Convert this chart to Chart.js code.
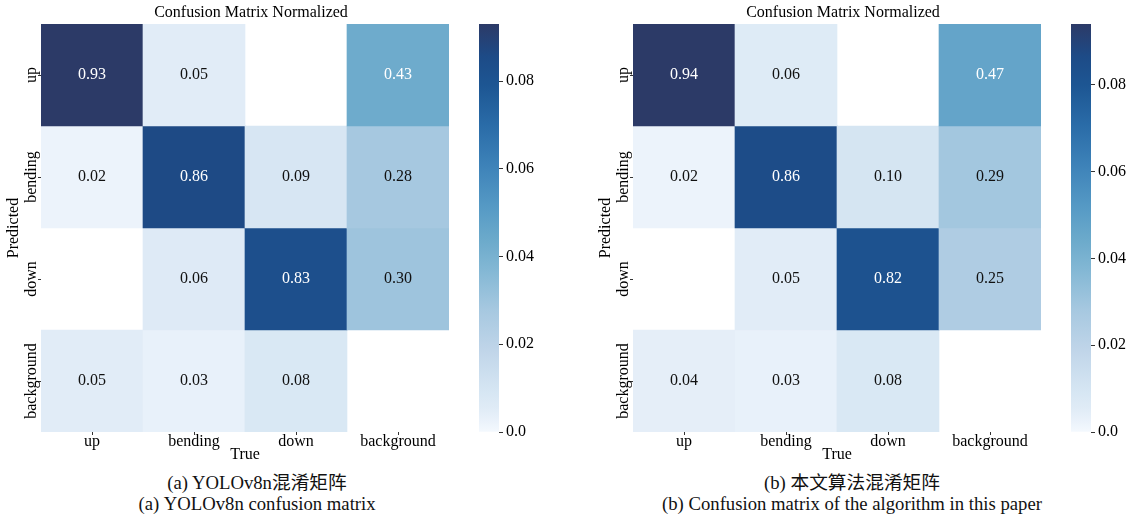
<!DOCTYPE html>
<html>
<head>
<meta charset="utf-8">
<title>Confusion Matrix Normalized</title>
<script src="https://cdn.jsdelivr.net/npm/chart.js@4.4.1/dist/chart.umd.min.js"></script>
<style>
    body { margin: 0; background: #fff; }
    #wrapper { position: relative; width: 1139px; height: 518px; overflow: hidden;
               font-family: "Liberation Serif", "Noto Sans CJK SC", serif; }
    .box { position: absolute; }
    .caption { position: absolute; width: 514px; text-align: center; font-size: 18.7px;
               line-height: 21px; color: #111; }
</style>
</head>
<body>
<div id="wrapper">
    <div class="box" style="left:0;top:0;width:502px;height:464px"><canvas id="heatA"></canvas></div>
    <div class="box" style="left:470px;top:0;width:70px;height:464px"><canvas id="barA"></canvas></div>
    <div class="box" style="left:592px;top:0;width:502px;height:464px"><canvas id="heatB"></canvas></div>
    <div class="box" style="left:1062px;top:0;width:70px;height:464px"><canvas id="barB"></canvas></div>
    <div class="caption" style="left:0;top:472px">(a) YOLOv8n混淆矩阵<br>(a) YOLOv8n confusion matrix</div>
    <div class="caption" style="left:595px;top:472px">(b) 本文算法混淆矩阵<br>(b) Confusion matrix of the algorithm in this paper</div>
</div>
<script>
"use strict"

// columns = true class, rows = predicted class, null = empty cell
const trueLabels = ["up", "bending", "down", "background"];
const predLabels = ["up", "bending", "down", "background"];

const matrixA = [
    [0.93, 0.05, null, 0.43],
    [0.02, 0.86, 0.09, 0.28],
    [null, 0.06, 0.83, 0.30],
    [0.05, 0.03, 0.08, null]
];
const matrixB = [
    [0.94, 0.06, null, 0.47],
    [0.02, 0.86, 0.10, 0.29],
    [null, 0.05, 0.82, 0.25],
    [0.04, 0.03, 0.08, null]
];

const colorbarTicks = [0, 0.02, 0.04, 0.06, 0.08];
const colorbarMaxA = 0.093;
const colorbarMaxB = 0.094;

const titleText = "Confusion Matrix Normalized";
const FONT = "'Liberation Serif', 'Times New Roman', serif";

// Blues-like map, as it looks in the picture
const cmap = [
    [0.00, 244, 249, 254],
    [0.03, 233, 241, 250],
    [0.06, 223, 235, 246],
    [0.10, 214, 230, 243],
    [0.20, 192, 213, 233],
    [0.30, 166, 200, 224],
    [0.40, 130, 183, 212],
    [0.47, 108, 170, 203],
    [0.55, 86, 154, 197],
    [0.65, 62, 131, 185],
    [0.75, 42, 108, 168],
    [0.85, 29, 86, 147],
    [0.92, 29, 75, 135],
    [1.00, 44, 58, 103]
];

function mapRgb(f) {
    f = Math.max(0, Math.min(1, f));
    for (let i = 1; i < cmap.length; i++) {
        if (f <= cmap[i][0]) {
            let a = cmap[i - 1], b = cmap[i];
            let t = (f - a[0]) / (b[0] - a[0]);
            return [1, 2, 3].map(k => Math.round(a[k] + (b[k] - a[k]) * t));
        }
    }
    return cmap[cmap.length - 1].slice(1);
}

function luminance(rgb) {
    let c = rgb.map(v => {
        v = v / 255;
        return v <= 0.03928 ? v / 12.92 : Math.pow((v + 0.055) / 1.055, 2.4);
    });
    return 0.2126 * c[0] + 0.7152 * c[1] + 0.0722 * c[2];
}

Chart.defaults.font.family = FONT;
Chart.defaults.font.size = 16;
Chart.defaults.color = "#000";

function makeHeatmap(canvasId, matrix, cbMax) {
    let vmax = cbMax * 10;

    let labelPlugin = {
        id: "labels_" + canvasId,
        afterDatasetsDraw(chart) {
            let ctx = chart.ctx;
            ctx.save();
            ctx.font = "16px " + FONT;
            ctx.textAlign = "center";
            ctx.textBaseline = "middle";

            // numbers in the cells
            matrix.forEach((row, r) => {
                let meta = chart.getDatasetMeta(r);
                row.forEach((v, c) => {
                    if (v == null) return;
                    let bar = meta.data[c].getProps(["x", "y", "base"], true);
                    let lum = luminance(mapRgb(v / vmax));
                    ctx.fillStyle = lum < 0.42 ? "#fff" : "#111";
                    ctx.fillText(v.toFixed(2), bar.x, (bar.y + bar.base) / 2);
                });
            });

            // y tick labels, turned like in matplotlib
            let y = chart.scales.y;
            ctx.fillStyle = "#000";
            y.ticks.forEach(t => {
                ctx.save();
                ctx.translate(y.right - 9, y.getPixelForValue(t.value));
                ctx.rotate(-Math.PI / 2);
                ctx.fillText(predLabels[Math.floor(t.value)], 0, 0);
                ctx.restore();
            });

            ctx.fillText(titleText, chart.width / 2, 12.5);
            ctx.restore();
        }
    };

    return new Chart(document.getElementById(canvasId), {
        type: "bar",
        data: {
            labels: trueLabels,
            datasets: matrix.map((row, r) => ({
                label: predLabels[r],
                data: row.map(v => v == null ? null : [r, r + 1]),
                backgroundColor: row.map(v => {
                    if (v == null) return "rgba(0,0,0,0)";
                    let c = mapRgb(v / vmax);
                    return `rgb(${c[0]},${c[1]},${c[2]})`;
                }),
                borderWidth: 0,
                barPercentage: 1,
                categoryPercentage: 1,
                grouped: false
            }))
        },
        options: {
            responsive: true,
            maintainAspectRatio: false,
            animation: false,
            layout: { padding: { top: 24, right: 53, left: 0, bottom: 0 } },
            plugins: { legend: { display: false }, tooltip: { enabled: false } },
            scales: {
                x: {
                    grid: { offset: false, drawOnChartArea: false, drawTicks: true, tickLength: 3, color: "#333" },
                    border: { display: false },
                    ticks: { padding: -3, color: "#000", font: { size: 16 } },
                    title: { display: true, text: "True", padding: { top: 0, bottom: 0 }, font: { size: 16 } },
                    afterFit: function (s) { s.height = 32; }
                },
                y: {
                    min: 0,
                    max: predLabels.length,
                    reverse: true,
                    grid: { drawOnChartArea: false, drawTicks: true, tickLength: 3, color: "#333" },
                    border: { display: false },
                    ticks: { display: false },
                    afterBuildTicks: function (s) {
                        s.ticks = predLabels.map((p, i) => ({ value: i + 0.5 }));
                    },
                    title: { display: true, text: "Predicted", padding: { top: 4, bottom: 0 }, font: { size: 16 } },
                    afterFit: function (s) { s.width = 41; }
                }
            }
        },
        plugins: [labelPlugin]
    });
}

function makeColorbar(canvasId, cbMax) {
    return new Chart(document.getElementById(canvasId), {
        type: "bar",
        data: {
            labels: [""],
            datasets: [{
                data: [[0, cbMax]],
                borderWidth: 0,
                barPercentage: 1,
                categoryPercentage: 1,
                backgroundColor: function (c) {
                    let chart = c.chart;
                    if (!chart.chartArea) return "rgba(0,0,0,0)";
                    let y = chart.scales.y;
                    let g = chart.ctx.createLinearGradient(0, y.getPixelForValue(0), 0, y.getPixelForValue(cbMax));
                    for (const s of cmap) {
                        g.addColorStop(s[0], `rgb(${s[1]},${s[2]},${s[3]})`);
                    }
                    return g;
                }
            }]
        },
        options: {
            responsive: true,
            maintainAspectRatio: false,
            animation: false,
            layout: { padding: { top: 24, bottom: 32, left: 9, right: 0 } },
            plugins: { legend: { display: false }, tooltip: { enabled: false } },
            scales: {
                x: { display: false },
                y: {
                    position: "right",
                    min: 0,
                    max: cbMax,
                    grid: { drawOnChartArea: false, drawTicks: true, tickLength: 4, color: "#333" },
                    border: { display: false },
                    afterBuildTicks: function (s) {
                        s.ticks = colorbarTicks.map(v => ({ value: v }));
                    },
                    ticks: {
                        padding: 3,
                        color: "#000",
                        font: { size: 16 },
                        callback: function (v) { return v === 0 ? "0.0" : v.toFixed(2); }
                    },
                    afterFit: function (s) { s.width = 41; }
                }
            }
        }
    });
}

window.onload = function () {
    makeHeatmap("heatA", matrixA, colorbarMaxA);
    makeColorbar("barA", colorbarMaxA);
    makeHeatmap("heatB", matrixB, colorbarMaxB);
    makeColorbar("barB", colorbarMaxB);
}
</script>
</body>
</html>
